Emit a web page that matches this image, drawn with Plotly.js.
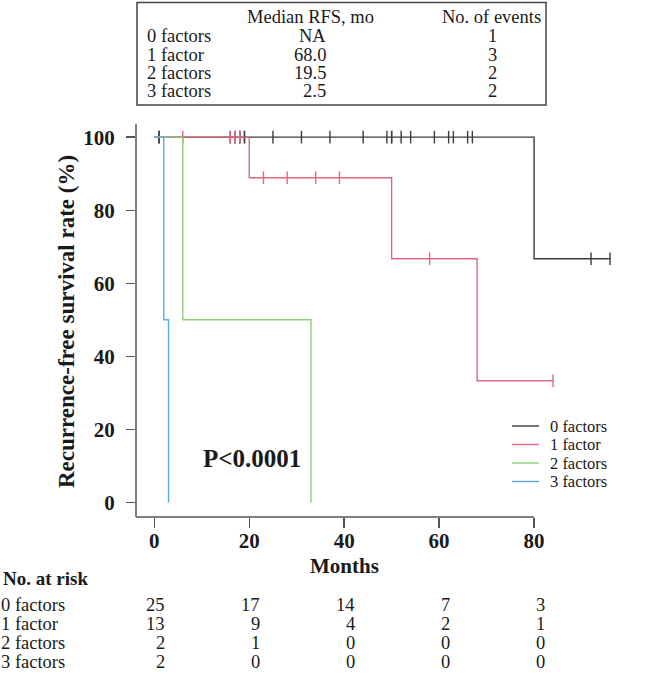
<!DOCTYPE html>
<html>
<head>
<meta charset="utf-8">
<script src="https://cdn.plot.ly/plotly-3.0.1.min.js"></script>
<style>html,body{margin:0;padding:0;background:#fff;}#chart{width:669px;height:675px;}</style>
</head>
<body>
<div id="chart"></div>
<script>
// ---------- data ----------
const groups = ["0 factors", "1 factor", "2 factors", "3 factors"];
// Kaplan-Meier step curves (time in months, survival %)
const t0 = [0, 80, 96],           s0 = [100, 66.7, 66.7];
const t1 = [0, 20, 50, 68, 84],   s1 = [100, 88.9, 66.7, 33.3, 33.3];
const t2 = [0, 6, 33],            s2 = [100, 50, 0];
const t3 = [0, 2, 3],             s3 = [100, 50, 0];
// censoring times
const c0 = [1, 1, 16, 17, 18, 18, 19, 19, 25, 31, 37, 44, 49, 50, 50, 52, 54, 59, 62, 63, 66, 67, 92, 96];
const c1 = [6, 16, 17, 18, 23, 28, 34, 39, 58, 84];
const c2 = [];
const c3 = [];
// table of medians and events
const medianRFS = ["NA", "68.0", "19.5", "2.5"];
const nEvents = ["1", "3", "2", "2"];
// number at risk
const riskTimes = [0, 20, 40, 60, 80];
const risk0 = [25, 17, 14, 7, 3];
const risk1 = [13, 9, 4, 2, 1];
const risk2 = [2, 1, 0, 0, 0];
const risk3 = [2, 0, 0, 0, 0];
const xTicks = [0, 20, 40, 60, 80];
const yTicks = [0, 20, 40, 60, 80, 100];

// ---------- style ----------
const colors = ["#3c3c3c", "#e2677f", "#8ad176", "#5aaae4"];
const FONT = "Liberation Serif, Times New Roman, serif";
const TXT = "#1a1a1a";
const W = 669, H = 675;
const M = {l: 136, r: 49, t: 124, b: 158};
const PW = W - M.l - M.r, PH = H - M.t - M.b;
const px = X => (X - M.l) / PW;
const py = Y => (H - M.b - Y) / PH;
const xRange = [-3.85, 98.1];
const yRange = [-4.0, 103.6];

function survAt(ts, ss, t) {
  let v = ss[0];
  for (let i = 0; i < ts.length; i++) { if (ts[i] <= t) v = ss[i]; }
  return v;
}

const curves = [[t0, s0, c0], [t1, s1, c1], [t2, s2, c2], [t3, s3, c3]];
const traces = [];
curves.forEach((c, i) => {
  traces.push({
    x: c[0], y: c[1], type: "scatter", mode: "lines",
    line: {shape: "hv", color: colors[i], width: 1.4},
    name: groups[i], showlegend: false, hoverinfo: "skip"
  });
  if (c[2].length) {
    traces.push({
      x: c[2], y: c[2].map(t => survAt(c[0], c[1], t)),
      type: "scatter", mode: "markers",
      marker: {symbol: "line-ns-open", size: 9, color: colors[i], line: {color: colors[i], width: 1.4}},
      showlegend: false, hoverinfo: "skip"
    });
  }
});

const ann = [];
function A(text, X, Y, opts) {
  ann.push(Object.assign({
    text: text, xref: "paper", yref: "paper", x: px(X), y: py(Y),
    xanchor: "left", yanchor: "middle", showarrow: false, borderpad: 0,
    font: {family: FONT, size: 18.5, color: TXT}
  }, opts || {}));
}
// Top table
A("Median RFS, mo", 246, 17);
A("No. of events", 441, 17);
const rowY = [36, 55, 73, 91];
groups.forEach((g, i) => {
  A(g, 146, rowY[i]);
  A(medianRFS[i], 327, rowY[i], {xanchor: "right"});
  A(nEvents[i], 492, rowY[i], {xanchor: "center"});
});
// axis titles
A("<b>Recurrence-free survival rate (%)</b>", 66, 322, {xanchor: "center", textangle: -90, font: {family: FONT, size: 23, color: TXT}});
ann.push({text: "<b>Months</b>", xref: "x", yref: "paper", x: 40, y: py(566), xanchor: "center", yanchor: "middle",
  showarrow: false, font: {family: FONT, size: 21, color: TXT}});
A("<b>P<0.0001</b>", 252, 458, {xanchor: "center", font: {family: FONT, size: 25, color: TXT}});
// legend (manual, compact spacing as in the reference)
const legY = [426, 444.5, 463, 481.5];
const shapes = [];
groups.forEach((g, i) => {
  shapes.push({type: "line", xref: "paper", yref: "paper", x0: px(512), x1: px(539), y0: py(legY[i]), y1: py(legY[i]),
    line: {color: colors[i], width: 1.4}});
  A(g, 549, legY[i], {font: {family: FONT, size: 16.5, color: TXT}});
});
// risk table
A("<b>No. at risk</b>", 2, 578, {font: {family: FONT, size: 19, color: TXT}});
const riskRows = [risk0, risk1, risk2, risk3];
const riskY = [605, 624, 643, 662];
riskRows.forEach((r, i) => {
  A(groups[i], 0, riskY[i]);
  r.forEach((v, j) => {
    ann.push({text: String(v), xref: "x", yref: "paper", x: riskTimes[j], xshift: 12, y: py(riskY[i]),
      xanchor: "right", yanchor: "middle", showarrow: false, borderpad: 0, font: {family: FONT, size: 18.5, color: TXT}});
  });
});

// table box
shapes.push({type: "rect", xref: "paper", yref: "paper", x0: px(137), x1: px(546), y0: py(105), y1: py(2.5),
   line: {color: "#444", width: 1.5}, fillcolor: "rgba(0,0,0,0)"});
// L-shaped axes
shapes.push({type: "line", xref: "paper", yref: "paper", x0: 0, x1: 0, y0: 0, y1: 1, line: {color: "#555", width: 1.5}});
shapes.push({type: "line", xref: "x", yref: "paper", x0: xRange[0], x1: xTicks[xTicks.length - 1], y0: 0, y1: 0, line: {color: "#555", width: 1.5}});

const layout = {
  width: W, height: H, margin: M,
  paper_bgcolor: "#fff", plot_bgcolor: "#fff",
  showlegend: false,
  xaxis: {range: xRange, tickvals: xTicks, ticktext: xTicks.map(String), showline: false, showgrid: false, zeroline: false,
    ticks: "outside", ticklen: 10, tickwidth: 1.4, tickcolor: "#555", ticklabelstandoff: -5,
    tickfont: {family: FONT, size: 21, color: TXT, weight: "bold"}, fixedrange: true},
  yaxis: {range: yRange, tickvals: yTicks, ticktext: yTicks.map(String), showline: false, showgrid: false, zeroline: false,
    ticks: "outside", ticklen: 9, tickwidth: 1.4, tickcolor: "#555", ticklabelstandoff: 7,
    tickfont: {family: FONT, size: 21, color: TXT, weight: "bold"}, fixedrange: true},
  annotations: ann, shapes: shapes
};

Plotly.newPlot("chart", traces, layout, {staticPlot: true, displayModeBar: false});
</script>
</body>
</html>
